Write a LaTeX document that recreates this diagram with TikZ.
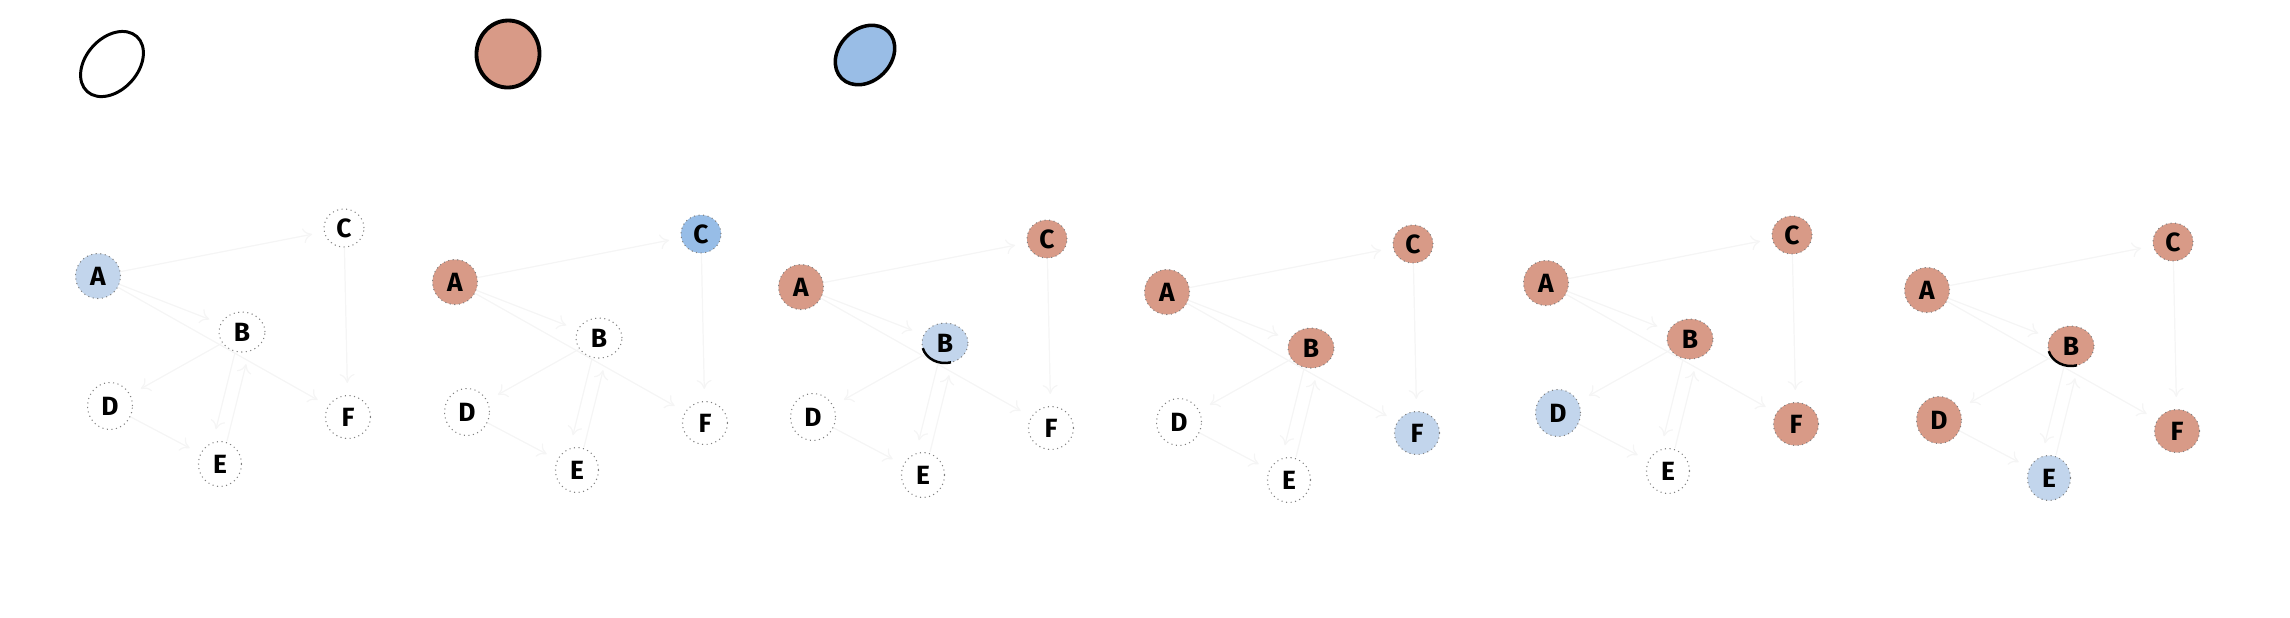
\documentclass[tikz,border=0pt]{standalone}
\usepackage{fontspec}
\newfontfamily\graphfont{Fira Sans}
\usetikzlibrary{shapes.geometric,arrows.meta}

\definecolor{seencol}{HTML}{D89A87}
\definecolor{queuecol}{HTML}{C2D5EC}
\definecolor{currentcol}{HTML}{97BDE7}
\definecolor{legendblue}{HTML}{99BDE6}

% one state of the search: prefix, position of A, styles of A to F
\newcommand{\searchstate}[9]{%
    \begin{scope}[shift={(#2,#3)}]
        \node[vertex,#4] (#1A) at (0,0) {A};
        \node[vertex,#5,minimum width=0.46cm,minimum height=0.40cm] (#1B) at (144,56) {B};
        \node[vertex,#6,minimum width=0.40cm,minimum height=0.38cm] (#1C) at (246,-48) {C};
        \node[vertex,#7,minimum height=0.47cm] (#1D) at (12,130) {D};
        \node[vertex,#8,minimum width=0.43cm] (#1E) at (122,188) {E};
        \node[vertex,#9,minimum height=0.43cm] (#1F) at (250,141) {F};
    \end{scope}
    \draw[link] (#1A) -- (#1C);
    \draw[link] (#1A) -- (#1B);
    \draw[link] (#1A) -- (#1F);
    \draw[link] (#1B) -- (#1D);
    \draw[link] ([xshift=-0.07cm]#1B.south) -- ([xshift=-0.07cm]#1E.north);
    \draw[link] ([xshift=0.07cm]#1E.north) -- ([xshift=0.07cm]#1B.south);
    \draw[link] (#1C) -- (#1F);
    \draw[link] (#1D) -- (#1E);
}

\begin{document}
\begin{tikzpicture}[x=0.01cm,y=-0.01cm,
    vertex/.style={ellipse,draw=black!50,densely dotted,line width=0.3pt,
        minimum width=0.45cm,minimum height=0.45cm,inner sep=0pt,fill=white,
        font=\graphfont\bfseries\fontsize{7.5}{9}\selectfont},
    unseen/.style={},
    seen/.style={fill=seencol},
    queued/.style={fill=queuecol},
    current/.style={fill=currentcol},
    link/.style={draw=black!4,line width=0.35pt,shorten >=0.12cm,
        -{To[length=0.9mm,width=1.5mm]}},
    legend/.style={ellipse,draw=black,inner sep=0pt}]
    \useasboundingbox (0,0) rectangle (2290,617);

    % Legend
    \node[legend,line width=0.85pt,fill=white,minimum width=0.74cm,minimum height=0.52cm,rotate=48] (unvisited) at (112,64) {};
    \node[legend,line width=1.1pt,fill=seencol,minimum width=0.63cm,minimum height=0.67cm,rotate=-4] (visited) at (508,54) {};
    \node[legend,line width=1pt,fill=legendblue,minimum width=0.66cm,minimum height=0.52cm,rotate=45] (inqueue) at (865,55) {};

    % States of the search, left to right
    \searchstate{p}{98}{276}{queued}{unseen}{unseen}{unseen}{unseen}{unseen}
    \searchstate{q}{455}{282}{seen}{unseen}{current}{unseen}{unseen}{unseen}
    \searchstate{r}{801}{287}{seen}{queued}{seen}{unseen}{unseen}{unseen}
    \searchstate{s}{1167}{292}{seen}{seen}{seen}{unseen}{unseen}{queued}
    \searchstate{t}{1546}{283}{seen}{seen}{seen}{queued}{unseen}{seen}
    \searchstate{u}{1927}{290}{seen}{seen}{seen}{seen}{queued}{seen}

    % Dark rims under B
    \draw[line width=0.7pt] ([shift={(195:0.23cm and 0.2cm)}]rB.center) arc[start angle=195,end angle=285,x radius=0.23cm,y radius=0.2cm];
    \draw[line width=0.7pt] ([shift={(195:0.23cm and 0.2cm)}]uB.center) arc[start angle=195,end angle=285,x radius=0.23cm,y radius=0.2cm];
\end{tikzpicture}
\end{document}
